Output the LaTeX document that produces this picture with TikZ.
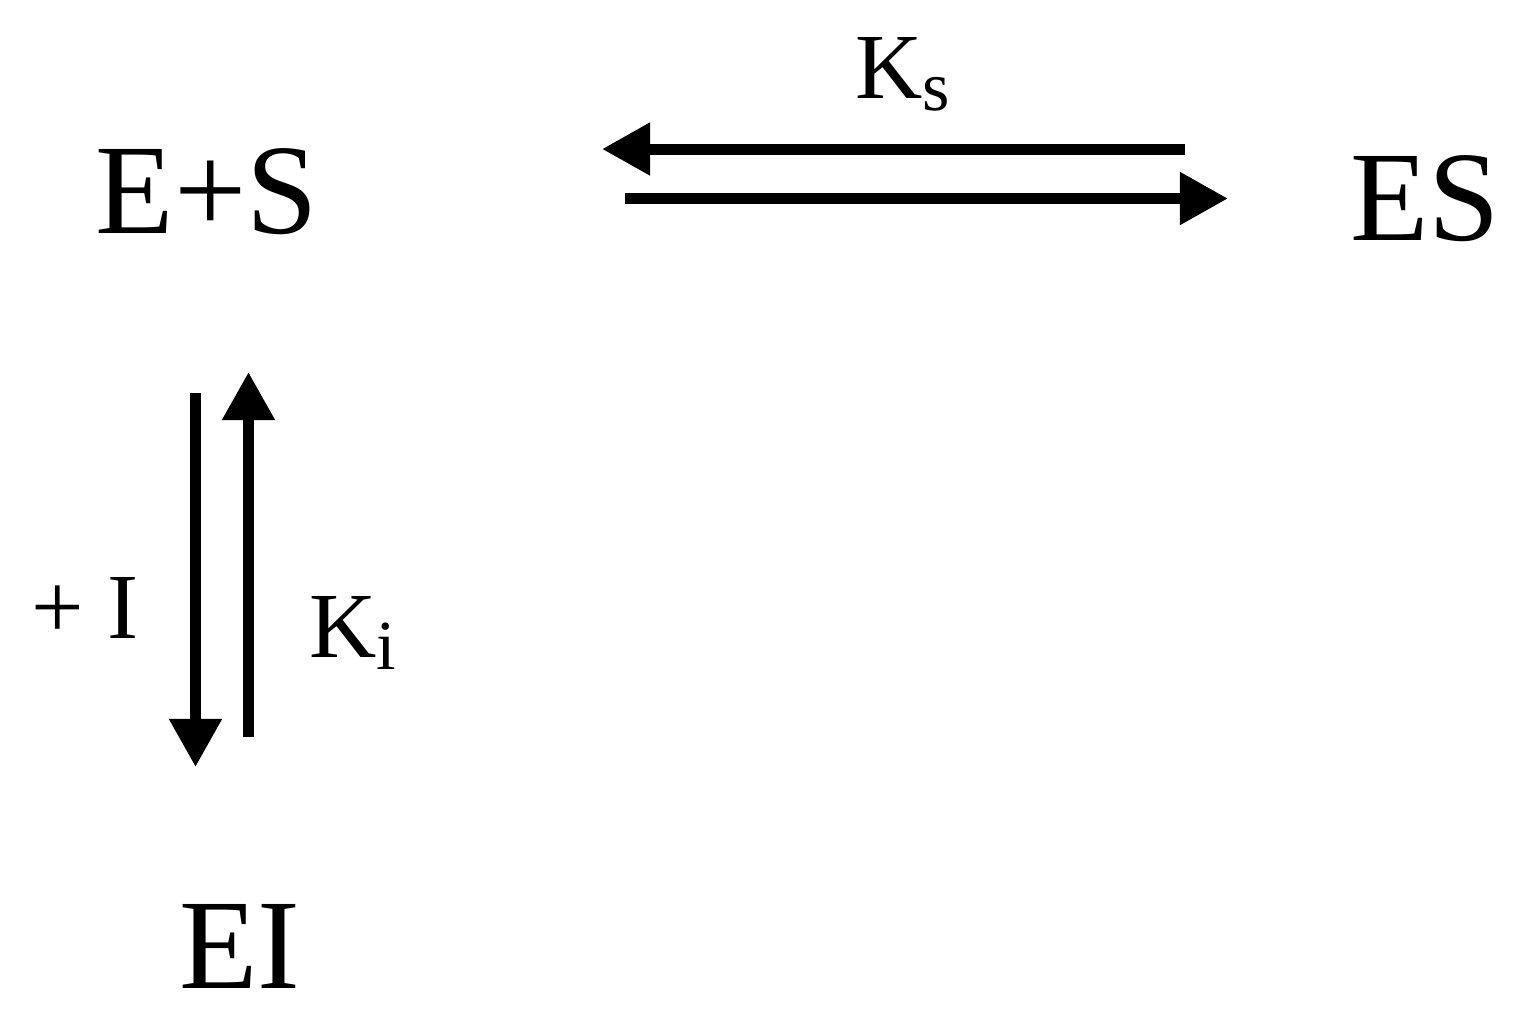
\documentclass[tikz,border=0pt]{standalone}
\usepackage{fontspec}
\setmainfont{Liberation Serif}
\usetikzlibrary{arrows.meta}
\newcommand{\bigsp}{\fontsize{36.5}{36.5}\selectfont}
\newcommand{\smallsp}{\fontsize{26.5}{26.5}\selectfont}
\newcommand{\subsp}[1]{\raisebox{-0.3ex}{\fontsize{20}{20}\selectfont #1}}
\begin{document}
\begin{tikzpicture}[x={0.01cm},y={-0.01cm},
  rxn/.style={line width=0.11cm,-{Triangle[length=0.48cm,width=0.5cm]}},
  lbl/.style={inner sep=0pt,anchor=base}]
\useasboundingbox(0,0)rectangle(1520,1023);
\node[lbl,font=\bigsp](es)at(207,233){E+S};
\node[lbl,font=\bigsp](cplx)at(1425,240){ES};
\node[lbl,font=\bigsp](ei)at(240,988){EI};
\node[lbl,font=\smallsp](ks)at(903,98){K\subsp{s}};
\node[lbl,font=\smallsp](plusi)at(85,638){+ I};
\node[lbl,font=\smallsp](ki)at(353,657){K\subsp{i}};
\coordinate(back0)at(1185,149);\coordinate(back1)at(602,149);
\coordinate(fwd0)at(625,198.5);\coordinate(fwd1)at(1228,198.5);
\coordinate(bind0)at(195.5,393);\coordinate(bind1)at(195.5,767);
\coordinate(rel0)at(248.5,737);\coordinate(rel1)at(248.5,372);
\draw[rxn](back0)--(back1);
\draw[rxn](fwd0)--(fwd1);
\draw[rxn](bind0)--(bind1);
\draw[rxn](rel0)--(rel1);
\end{tikzpicture}
\end{document}
